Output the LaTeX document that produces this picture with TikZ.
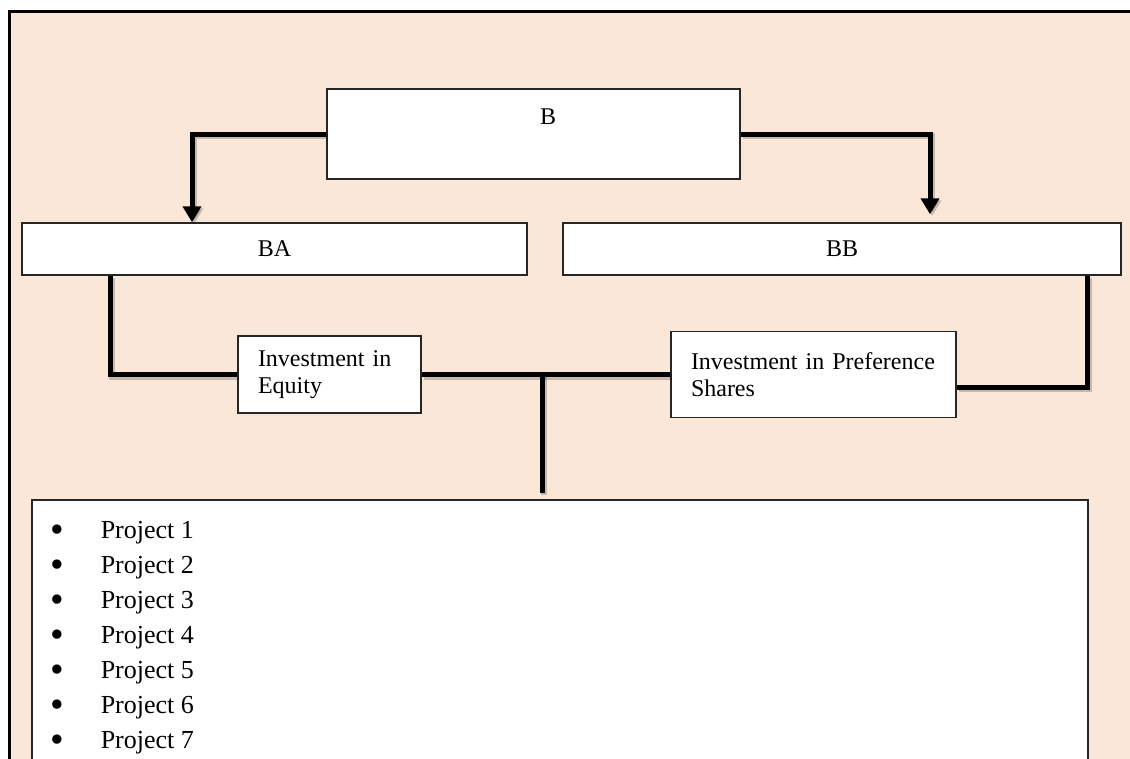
\documentclass[tikz,border=0pt]{standalone}
\usepackage{fontspec}
\setmainfont{Liberation Serif}
\usetikzlibrary{arrows.meta}
\definecolor{peach}{RGB}{251,231,216}
\newcommand{\projitem}[1]{\hspace*{19pt}\makebox[50pt][l]{\smash{\raisebox{-4pt}{\scalebox{1.5}{\textbullet}}}}Project #1\par}

\begin{document}
\begin{tikzpicture}[x=1pt,y=-1pt,font=\fontsize{24}{27.5}\selectfont,
  box/.style={draw=black!85,line width=1.5pt,fill=white,inner sep=0pt},
  textbox/.style={box,align=left,inner xsep=20pt},
  conn/.style={line width=5pt,preaction={draw,black,opacity=.2,line width=6pt,transform canvas={xshift=2pt,yshift=-2pt}}},
  tip/.style={-{Triangle[width=18pt,length=16pt]}}]
\clip (0,0) rectangle (1130,758);
\fill[peach] (9,11) rectangle (1140,770);
\draw[line width=3pt] (9,770) |- (1140,11);

\node[box,minimum width=413pt,minimum height=90pt,label={[xshift=14.5pt,yshift=17pt]center:B}] (b) at (533.5,134) {};
\node[box,minimum width=505pt,minimum height=52pt] (ba) at (274.5,249) {BA};
\node[box,minimum width=558pt,minimum height=52pt] (bb) at (842,249) {BB};
\node[textbox,text width=143pt,minimum height=77pt] (eq) at (329.5,374.5) {Investment in\\Equity};
\node[textbox,text width=245pt,minimum height=86pt] (pref) at (813.5,374.5) {Investment in Preference\\Shares};
\node[box,anchor=north west] (list) at (31,499) {\parbox[t][300pt][t]{1056pt}{\fontsize{26}{35}\selectfont
  \rule{0pt}{39pt}\projitem{1}\projitem{2}\projitem{3}\projitem{4}\projitem{5}\projitem{6}\projitem{7}}};
\coordinate (tee) at (542,374.5);

\draw[conn,tip] (b.west) -| ([xshift=-82.5pt]ba.north);
\draw[conn,tip] (b.east) -| ([xshift=88pt,yshift=8pt]bb.north);
\draw[conn] ([xshift=-164.5pt]ba.south) |- (eq.west);
\draw[conn] (eq.east) -- (pref.west);
\draw[conn,shorten >=6pt] (tee) -- (tee |- list.north);
\draw[conn] ([xshift=245pt]bb.south) |- ([yshift=-12.5pt]pref.east);
\end{tikzpicture}
\end{document}
